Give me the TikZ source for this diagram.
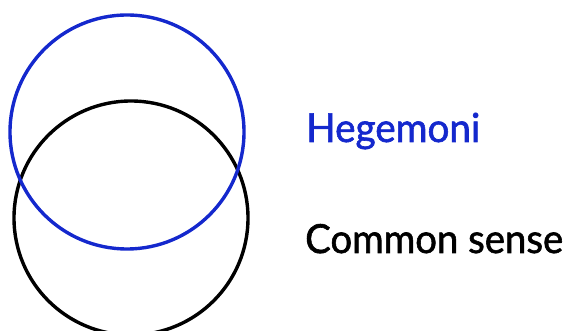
\documentclass[tikz,border=0pt]{standalone}
\usepackage{fontspec}
\usepackage{graphicx}
\setmainfont{Lato}
\newfontfamily\labfont{Lato}[FakeBold=1.5]
\definecolor{hegblue}{RGB}{20,40,205}
\tikzset{
  ring/.style={draw, line width=3.4pt, circle, minimum size=234pt, inner sep=0pt},
  label/.style={anchor=base west, inner sep=0pt, font=\fontsize{40}{42}\labfont}
}
\begin{document}
\begin{tikzpicture}[x=1pt,y=1pt]
\useasboundingbox (0,0) rectangle (566,331);
\node[ring, draw=black] (cs) at (131,113) {};
\node[ring, draw=hegblue] (heg) at (127,199) {};
\node[label, text=hegblue] (t1) at (306,189) {\resizebox{174pt}{\height}{Hegemoni}};
\node[label, text=black] (t2) at (305,78) {\resizebox{258pt}{\height}{Common sense}};
\end{tikzpicture}
\end{document}
